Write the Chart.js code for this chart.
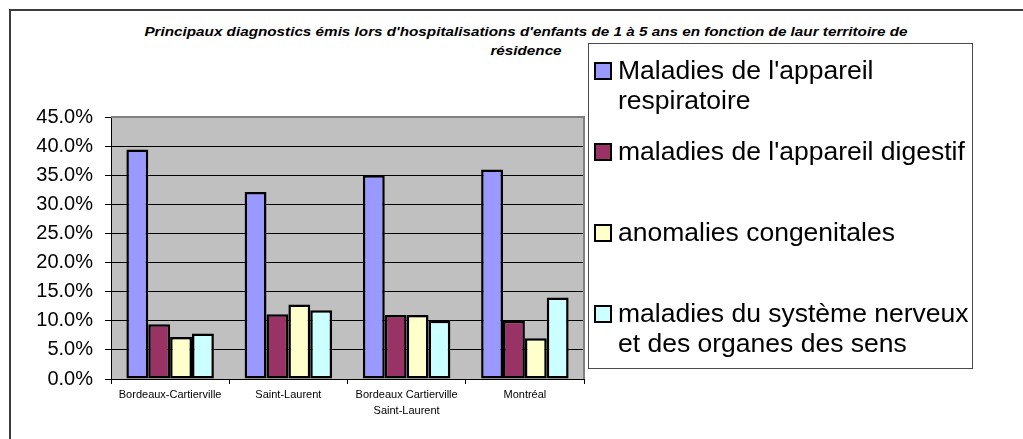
<!DOCTYPE html>
<html>
<head>
<meta charset="utf-8">
<script src="https://cdn.jsdelivr.net/npm/chart.js"></script>
<style>
  body { margin: 0; background: #fff; font-family: 'Liberation Sans', Arial, sans-serif; }
  #wrap { position: relative; width: 1023px; height: 439px; overflow: hidden; }
  #cadre { position: absolute; left: 9px; top: 9px; width: 1030px; height: 450px;
           border-top: 2px solid #3c3c3c; border-left: 2px solid #3c3c3c; }
  #zoneGraph { position: absolute; left: 0; top: 0; width: 600px; height: 439px; }
  #titre { position: absolute; left: 126px; top: 23px; width: 800px; text-align: center;
           font: italic bold 12.5px 'Liberation Sans', Arial, sans-serif; line-height: 19px; color: #000;
           transform: scaleX(1.22); transform-origin: 400px 0; }
  #legende { position: absolute; left: 588px; top: 43px; width: 383px; height: 324px;
             border: 1px solid #4a4a4a; background: #fff; }
  .item { position: absolute; left: 5px; width: 375px; }
  .carre { position: absolute; left: 0; top: 7px; width: 14px; height: 14px; border: 2px solid #000; }
  .texte { position: absolute; left: 24px; width: 358px; font-size: 26.5px; line-height: 30px; color: #000; }
</style>
</head>
<body>
<div id="wrap">
  <div id="cadre"></div>
  <div id="titre"></div>
  <div id="zoneGraph"><canvas id="graphDiagnostics"></canvas></div>
  <div id="legende"></div>
</div>
<script>
// donnees (en %)
const titreLignes = ["Principaux diagnostics émis lors d'hospitalisations d'enfants de 1 à 5 ans en fonction de laur territoire de", "résidence"];
const territoires = ['Bordeaux-Cartierville', 'Saint-Laurent', ['Bordeaux Cartierville', 'Saint-Laurent'], 'Montréal'];
const respiratoire = [39.4, 32.1, 35.0, 36.0];
const digestif = [9.4, 11.1, 11.0, 10.0];
const congenitales = [7.2, 12.8, 11.0, 7.0];
const nerveux = [7.8, 11.8, 10.0, 14.0];
const nomsSeries = ["Maladies de l'appareil respiratoire", "maladies de l'appareil digestif", 'anomalies congenitales', 'maladies du système nerveux et des organes des sens'];
const couleurs = ['#9999FF', '#993366', '#FFFFCC', '#CCFFFF'];
const yMax = 45;
const yPas = 5;

document.getElementById('titre').innerHTML = titreLignes.join('<br>');

// fond gris de la zone de tracé, comme dans Excel
const fondGris = {
  id: 'fondGris',
  beforeDraw(chart) {
    const { ctx, chartArea: a } = chart;
    ctx.save();
    ctx.fillStyle = '#C0C0C0';
    ctx.fillRect(a.left, a.top, a.right - a.left, a.bottom - a.top);
    ctx.restore();
  },
  beforeDatasetsDraw(chart) {
    const { ctx, chartArea: a } = chart;
    ctx.save();
    ctx.strokeStyle = '#808080';
    ctx.lineWidth = 2;
    ctx.beginPath();
    ctx.moveTo(a.left, a.top);
    ctx.lineTo(a.right, a.top);
    ctx.lineTo(a.right, a.bottom);
    ctx.stroke();
    ctx.restore();
  }
};

const valeurs = [respiratoire, digestif, congenitales, nerveux];

const data = {
  labels: territoires,
  datasets: valeurs.map((v, i) => ({
    label: nomsSeries[i],
    data: v,
    backgroundColor: couleurs[i],
    borderColor: '#000',
    borderWidth: 2.5,
    borderSkipped: false,
    barPercentage: 1.0,
    categoryPercentage: 0.74
  }))
};

const config = {
  type: 'bar',
  data: data,
  plugins: [fondGris],
  options: {
    responsive: true,
    maintainAspectRatio: false,
    animation: false,
    layout: { padding: { top: 117, right: 16, bottom: 0, left: 0 } },
    plugins: {
      legend: { display: false },
      tooltip: { enabled: false }
    },
    scales: {
      x: {
        afterFit: (s) => { s.height = 60; },
        border: { color: '#000', width: 1 },
        grid: { display: true, drawOnChartArea: false, drawTicks: true, tickLength: 5, color: '#000', offset: true },
        ticks: {
          color: '#000',
          padding: 3,
          maxRotation: 0,
          font: { family: "'Liberation Sans', Arial, sans-serif", size: 11, lineHeight: 1.45 }
        }
      },
      y: {
        min: 0,
        max: yMax,
        afterFit: (s) => { s.width = 111; },
        border: { color: '#000', width: 1 },
        grid: {
          color: (c) => c.tick && c.tick.value === yMax ? '#808080' : '#000',
          tickColor: '#000',
          tickLength: 6,
          lineWidth: 1
        },
        ticks: {
          stepSize: yPas,
          color: '#000',
          padding: 12,
          font: { family: "'Liberation Sans', Arial, sans-serif", size: 20 },
          callback: (v) => v.toFixed(1) + '%'
        }
      }
    }
  }
};

const graphDiagnostics = new Chart(document.getElementById('graphDiagnostics'), config);

// legende a droite, entrees espacees comme sur l'original
const legende = document.getElementById('legende');
nomsSeries.forEach((nom, i) => {
  const item = document.createElement('div');
  item.className = 'item';
  item.style.top = (11 + i * 81) + 'px';
  item.innerHTML = '<div class="carre" style="background:' + couleurs[i] + '"></div><div class="texte">' + nom + '</div>';
  legende.appendChild(item);
});
</script>
</body>
</html>
